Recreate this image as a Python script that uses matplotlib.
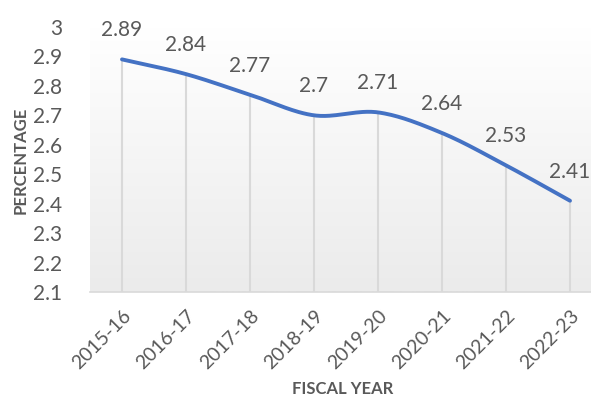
import numpy as np
import matplotlib.pyplot as plt
from matplotlib.colors import LinearSegmentedColormap

years = ['2015-16', '2016-17', '2017-18', '2018-19', '2019-20', '2020-21', '2021-22', '2022-23']
pct = [2.89, 2.84, 2.77, 2.70, 2.71, 2.64, 2.53, 2.41]
yticks = [2.1, 2.2, 2.3, 2.4, 2.5, 2.6, 2.7, 2.8, 2.9, 3.0]
ytick_labels = ['2.1', '2.2', '2.3', '2.4', '2.5', '2.6', '2.7', '2.8', '2.9', '3']

txt = '#595959'
plt.rcParams['font.family'] = ['Lato', 'DejaVu Sans']


def smooth(xs, ys, n=30):
    # catmull-rom through the points, like a spreadsheet "smoothed line"
    xs = np.asarray(xs, float)
    ys = np.asarray(ys, float)
    px = np.concatenate([[2 * xs[0] - xs[1]], xs, [2 * xs[-1] - xs[-2]]])
    py = np.concatenate([[2 * ys[0] - ys[1]], ys, [2 * ys[-1] - ys[-2]]])
    outx, outy = [], []
    t = np.linspace(0, 1, n)
    for i in range(1, len(px) - 2):
        for p, out in ((px, outx), (py, outy)):
            p0, p1, p2, p3 = p[i - 1], p[i], p[i + 1], p[i + 2]
            b1 = p1 + (p2 - p0) / 6
            b2 = p2 - (p3 - p1) / 6
            out.extend((1 - t) ** 3 * p1 + 3 * (1 - t) ** 2 * t * b1 + 3 * (1 - t) * t ** 2 * b2 + t ** 3 * p2)
    return np.array(outx), np.array(outy)


fig = plt.figure(figsize=(5.91, 4.03), dpi=100)
ax = fig.add_axes([90 / 591, 111 / 403, 512 / 591, 265 / 403])

x = np.arange(len(years))
ax.set_xlim(-0.5, len(years) - 0.5)
ax.set_ylim(2.1, 3.0)

# plot area background: white fading to light grey
grad = np.linspace(0, 1, 256).reshape(-1, 1)
ax.imshow(grad, cmap=LinearSegmentedColormap.from_list('bg', ['#ffffff', '#ebebeb']),
          extent=(-0.5, len(years) - 0.5, 2.1, 3.0), aspect='auto', origin='upper', zorder=0)

ax.vlines(x, 2.1, pct, color='#d9d9d9', lw=1.5, zorder=1)
sx, sy = smooth(x, pct)
ax.plot(sx, sy, color='#4472C4', lw=2.8, solid_capstyle='round', zorder=3)

for xi, v in zip(x, pct):
    ax.annotate(f'{v:g}', (xi, v), xytext=(0, 21), textcoords='offset points',
                ha='center', va='center', fontsize=15, color=txt)

ax.set_yticks(yticks)
ax.set_yticklabels(ytick_labels)
ax.set_xticks(x)
ax.set_xticklabels(years, rotation=45, ha='right', rotation_mode='anchor')
ax.tick_params(axis='both', length=0, labelsize=15, labelcolor=txt)
ax.tick_params(axis='y', pad=20)
ax.tick_params(axis='x', pad=11, labelsize=14)

for s in ['top', 'right', 'left']:
    ax.spines[s].set_visible(False)
ax.spines['bottom'].set_color('#d9d9d9')
ax.spines['bottom'].set_linewidth(1.2)

ax.set_ylabel('PERCENTAGE', fontsize=12, fontweight='bold', color=txt)
ax.set_xlabel('FISCAL YEAR', fontsize=12, fontweight='bold', color=txt)
ax.xaxis.set_label_coords((343 - 90) / 512, -(389 - 292) / 265)
ax.yaxis.set_label_coords(-(90 - 21) / 512, (292 - 160) / 265)
ax.xaxis.label.set_va('center')
ax.yaxis.label.set_va('center')

fig.savefig('out.png', dpi=100)
